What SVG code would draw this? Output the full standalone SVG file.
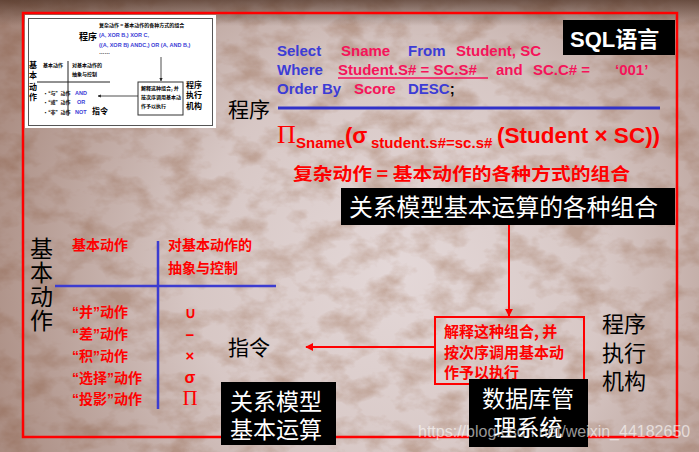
<svg xmlns="http://www.w3.org/2000/svg" width="699" height="452" viewBox="0 0 699 452">
<defs>
<filter id="tex" x="0" y="0" width="100%" height="100%">
<feTurbulence type="fractalNoise" baseFrequency="0.03 0.045" numOctaves="4" seed="7" result="n"/>
<feColorMatrix in="n" type="matrix" values="0 0 0 0 0.5  0 0 0 0 0.33  0 0 0 0 0.26  2.6 0 0 0 -1.1"/>
</filter>
<radialGradient id="vig" cx="400" cy="270" r="460" gradientUnits="userSpaceOnUse">
<stop offset="0" stop-color="#7a4e3a" stop-opacity="0"/>
<stop offset="0.45" stop-color="#7a4e3a" stop-opacity="0.12"/>
<stop offset="1" stop-color="#7a4e3a" stop-opacity="0.6"/>
</radialGradient>
<linearGradient id="topdark" x1="0" y1="0" x2="0" y2="1">
<stop offset="0" stop-color="#4a2e20" stop-opacity="0.7"/>
<stop offset="1" stop-color="#4a2e20" stop-opacity="0"/>
</linearGradient>
<marker id="ah" viewBox="0 0 10 10" refX="9" refY="5" markerWidth="4" markerHeight="4" orient="auto">
<path d="M0,0 L10,5 L0,10 z" fill="#ff0000"/>
</marker>
<marker id="ahk" viewBox="0 0 10 10" refX="9" refY="5" markerWidth="4" markerHeight="4" orient="auto">
<path d="M0,0 L10,5 L0,10 z" fill="#222"/>
</marker>
<style>
.cjk{font-family:"Noto Sans CJK SC","Liberation Sans",sans-serif;}
.mix{font-family:"Liberation Sans","Noto Sans CJK SC",sans-serif;}
.lat{font-family:"Liberation Sans","Noto Sans CJK SC",sans-serif;font-weight:bold;}
.b{font-weight:bold;}
.red{fill:#ff0000;}
.blue{fill:#3c3cd6;}
.pink{fill:#f5145a;}
.wt{fill:#ffffff;}
.blk{fill:#000000;}
.tk{font-family:"Noto Sans CJK SC",sans-serif;font-weight:bold;fill:#000;}
</style>
</defs>

<!-- background -->
<rect x="0" y="0" width="699" height="452" fill="#e4d8d8"/>
<rect x="0" y="0" width="699" height="452" filter="url(#tex)" opacity="0.7"/>
<rect x="0" y="0" width="699" height="452" fill="url(#vig)"/>
<rect x="0" y="0" width="699" height="26" fill="url(#topdark)"/>

<!-- red frame -->
<rect x="23" y="13" width="654" height="424" fill="none" stroke="#ff0000" stroke-width="2.5"/>

<!-- thumbnail -->
<g id="thumbnail">
<rect x="25" y="15" width="191" height="113" fill="#ffffff"/>
<rect x="28.5" y="18.5" width="184" height="107" fill="none" stroke="#555" stroke-width="1"/>
<text class="tk" x="79" y="40" font-size="9">程序</text>
<text class="tk" x="99" y="27" font-size="5">复杂动作 = 基本动作的各种方式的组合</text>
<text class="lat" x="99" y="37" font-size="5.5" fill="#3c3cd6">(A, XOR B,) XOR C,</text>
<text class="lat" x="99" y="47" font-size="5.5" fill="#3c3cd6">((A, XOR B) ANDC,) OR (A, AND B,)</text>
<text class="lat" x="99" y="54" font-size="5.5" fill="#000">……</text>
<text class="tk" font-size="8" x="29" y="68">基<tspan x="29" dy="10">本</tspan><tspan x="29" dy="12">动</tspan><tspan x="29" dy="10">作</tspan></text>
<text class="tk" x="43" y="67" font-size="5">基本动作</text>
<text class="tk" x="72" y="67" font-size="5">对基本动作的</text>
<text class="tk" x="72" y="76" font-size="5">抽象与控制</text>
<line x1="37" y1="82" x2="110" y2="82" stroke="#222" stroke-width="1"/>
<line x1="68" y1="61" x2="68" y2="116" stroke="#222" stroke-width="1"/>
<text class="tk" font-size="5" x="43" y="95">·“与”动作<tspan x="43" dy="9">·“或”动作</tspan><tspan x="43" dy="10">·“非”动作</tspan></text>
<text class="lat" font-size="5.5" fill="#3c3cd6" x="75" y="95">AND<tspan x="77" dy="9">OR</tspan><tspan x="75" dy="10">NOT</tspan></text>
<text class="tk" x="92" y="114" font-size="8">指令</text>
<rect x="138" y="82" width="45" height="33" fill="#fff" stroke="#333" stroke-width="1"/>
<text class="tk" font-size="5" x="141" y="90">解释这种组合, 并<tspan x="141" dy="9">按次序调用基本动</tspan><tspan x="141" dy="9">作予以执行</tspan></text>
<line x1="161" y1="57" x2="161" y2="81" stroke="#222" stroke-width="0.8" marker-end="url(#ahk)"/>
<line x1="138" y1="96" x2="98" y2="96" stroke="#222" stroke-width="0.8" marker-end="url(#ahk)"/>
<text class="tk" font-size="8" x="186" y="88">程序<tspan x="186" dy="10">执行</tspan><tspan x="186" dy="11">机构</tspan></text>
</g>

<!-- SQL label -->
<g id="sql-label">
<rect x="563" y="20" width="112" height="35" fill="#000"/>
<text x="570" y="47" font-size="22" class="wt b" font-family="Liberation Sans, Noto Sans CJK SC, sans-serif">SQL<tspan class="cjk">语言</tspan></text>
</g>

<!-- SQL statement -->
<g id="sql" class="lat" font-size="15">
<text x="277" y="56"><tspan class="blue">Select</tspan><tspan class="pink" x="341">Sname</tspan><tspan class="blue" x="408">From</tspan><tspan class="pink" x="456">Student, SC</tspan></text>
<text x="277" y="75"><tspan class="blue">Where</tspan><tspan class="pink" x="338">Student.S# = SC.S#</tspan><tspan class="pink" x="496">and</tspan><tspan class="pink" x="533">SC.C# =</tspan><tspan x="615" class="pink">‘001’</tspan></text>
<line x1="338" y1="78" x2="488" y2="78" stroke="#f5145a" stroke-width="1.5"/>
<text x="277" y="94"><tspan class="blue">Order By</tspan><tspan class="pink" x="354">Score</tspan><tspan class="blue" x="408">DESC</tspan><tspan fill="#000">;</tspan></text>
</g>

<!-- program label + line -->
<g id="program">
<text x="228" y="117" font-size="21" class="cjk blk">程序</text>
<line x1="278" y1="108" x2="660" y2="108" stroke="#3232c8" stroke-width="3"/>
</g>

<!-- relational algebra expression -->
<g id="algebra" class="red">
<text x="277" y="143" font-size="26" font-family="Liberation Serif, serif">Π</text>
<text x="296" y="148" font-size="15" class="lat">Sname</text>
<text x="345" y="143" font-size="22" class="lat">(σ</text>
<text x="371" y="148" font-size="15" class="lat">student.s#=sc.s#</text>
<text x="497" y="143" font-size="22.5" class="lat">(Student × SC))</text>
</g>

<g id="complex">
<text x="293" y="180" font-size="17" class="cjk b red" textLength="337" lengthAdjust="spacingAndGlyphs">复杂动作 = 基本动作的各种方式的组合</text>
</g>

<g id="combo-box">
<rect x="341" y="188" width="334" height="37" fill="#000"/>
<text x="349" y="216" font-size="24" class="cjk wt" textLength="309" lengthAdjust="spacingAndGlyphs">关系模型基本运算的各种组合</text>
</g>

<!-- left table -->
<g id="basic-actions">
<text class="cjk blk" font-size="23" x="30" y="257">基<tspan x="30" dy="24">本</tspan><tspan x="30" dy="24">动</tspan><tspan x="30" dy="24">作</tspan></text>
<g class="cjk b red" font-size="14">
<text x="72" y="250">基本动作</text>
<text x="168" y="250">对基本动作的</text>
<text x="168" y="273">抽象与控制</text>
</g>
<text class="mix b red" font-size="14" x="72" y="317">“并”动作<tspan x="72" dy="22">“差”动作</tspan><tspan x="72" dy="22">“积”动作</tspan><tspan x="72" dy="22">“选择”动作</tspan><tspan x="72" dy="21">“投影”动作</tspan></text>
<line x1="55" y1="286" x2="276" y2="286" stroke="#3c3cd0" stroke-width="2.5"/>
<line x1="158" y1="241" x2="158" y2="409" stroke="#3c3cd0" stroke-width="2.5"/>
<g class="red" font-family="Liberation Sans, sans-serif" font-weight="bold" text-anchor="middle">
<text x="190" y="318" font-size="15">∪</text>
<text x="190" y="340" font-size="15">−</text>
<text x="190" y="361" font-size="15">×</text>
<text x="190" y="383" font-size="16">σ</text>
<text x="190" y="405" font-size="21" font-family="Liberation Serif, serif" font-weight="normal">Π</text>
</g>
</g>

<g id="instruction">
<text x="228" y="355" font-size="21" class="cjk blk">指令</text>
</g>

<g id="interpret-box">
<rect x="435" y="317" width="149" height="67" fill="none" stroke="#ff0000" stroke-width="2"/>
<text class="cjk b red" font-size="15" x="444" y="337">解释这种组合, 并<tspan x="444" dy="21">按次序调用基本动</tspan><tspan x="444" dy="20">作予以执行</tspan></text>
</g>

<g id="exec-label">
<text class="cjk blk" font-size="22" x="602" y="332">程序<tspan x="602" dy="29">执行</tspan><tspan x="602" dy="28">机构</tspan></text>
</g>

<g id="rel-box">
<rect x="221" y="382" width="115" height="63" fill="#000"/>
<text class="cjk wt" font-size="23" x="230" y="410">关系模型<tspan x="230" dy="28">基本运算</tspan></text>
</g>

<g id="dbms-box">
<rect x="469" y="379" width="119" height="68" fill="#000"/>
<text class="cjk wt" font-size="23" x="528" y="407" text-anchor="middle">数据库管<tspan x="528" dy="29">理系统</tspan></text>
</g>

<g id="connectors">
<line x1="509" y1="225" x2="509" y2="316" stroke="#ff0000" stroke-width="2" marker-end="url(#ah)"/>
<line x1="435" y1="347" x2="306" y2="347" stroke="#ff0000" stroke-width="2" marker-end="url(#ah)"/>
</g>

<text x="418" y="437" font-size="16" font-family="Liberation Sans, sans-serif" fill="#ffffff" fill-opacity="0.6">https://blog.csdn.net/weixin_44182650</text>
</svg>
